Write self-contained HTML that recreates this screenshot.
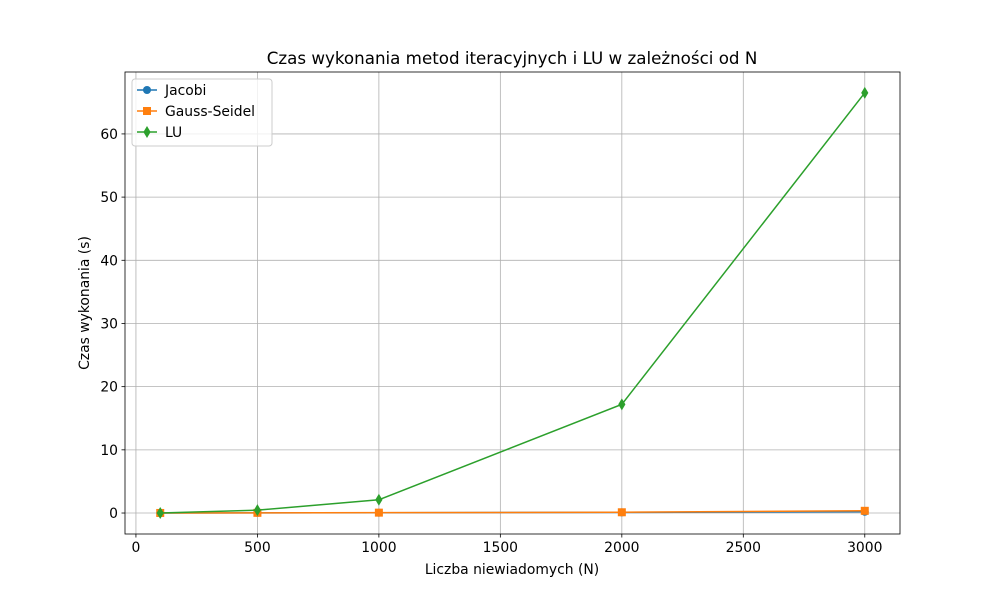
<!DOCTYPE html>
<html><head><meta charset="utf-8"><style>body{margin:0;background:#fff}svg{font-family:"DejaVu Sans","Liberation Sans",sans-serif}</style></head>
<body>
<svg id="c" width="1000" height="600" xmlns="http://www.w3.org/2000/svg"></svg>
<script>
const nValues=[100,500,1000,2000,3000];
const jacobi=[0.01,0.03,0.05,0.1,0.2];
const gaussSeidel=[0.01,0.03,0.06,0.12,0.35];
const lu=[0.01,0.45,2.1,17.2,66.5];
const xTicks=[0,500,1000,1500,2000,2500,3000];
const yTicks=[0,10,20,30,40,50,60];
const L=125,R=900,T=72,B=534,xmin=-45,xmax=3145,ymin=-3.32,ymax=69.8;
const X=v=>L+(v-xmin)/(xmax-xmin)*(R-L);
const Y=v=>B-(v-ymin)/(ymax-ymin)*(B-T);
const svg=document.getElementById('c');const NS='http://www.w3.org/2000/svg';
function mk(t,a,p){const e=document.createElementNS(NS,t);for(const k in a)e.setAttribute(k,a[k]);(p||svg).appendChild(e);return e;}
let g=mk('g',{});


xTicks.forEach(v=>{mk('line',{x1:X(v),x2:X(v),y1:T,y2:B,stroke:'#b0b0b0','stroke-width':0.8},g);
 mk('line',{x1:X(v),x2:X(v),y1:B,y2:B+3.5,stroke:'#000','stroke-width':0.8});
 const t=mk('text',{x:X(v),y:B+18,'font-size':13.9,'text-anchor':'middle'});t.textContent=v;
 
 });
yTicks.forEach(v=>{mk('line',{x1:L,x2:R,y1:Y(v),y2:Y(v),stroke:'#b0b0b0','stroke-width':0.8},g);
 mk('line',{x1:L-3.5,x2:L,y1:Y(v),y2:Y(v),stroke:'#000','stroke-width':0.8});
 const t=mk('text',{x:L-7,y:Y(v)+5,'font-size':13.9,'text-anchor':'end'});t.textContent=v;
 
 });
function marker(type,x,y,c,p){
 if(type==='o')return mk('circle',{cx:x,cy:y,r:4,fill:c},p);
 if(type==='s')return mk('rect',{x:x-4,y:y-4,width:8,height:8,fill:c},p);
 return mk('polygon',{points:`${x},${y-6} ${x+3.6},${y} ${x},${y+6} ${x-3.6},${y}`,fill:c},p);}
const series=[['jacobi',jacobi,'#1f77b4','o','Jacobi'],['gauss-seidel',gaussSeidel,'#ff7f0e','s','Gauss-Seidel'],['lu',lu,'#2ca02c','d','LU']];
series.forEach(([n,d,c,m])=>{const sg=mk('g',{});
 
 
 mk('polyline',{points:d.map((v,i)=>X(nValues[i])+','+Y(v)).join(' '),fill:'none',stroke:c,'stroke-width':1.5},sg);
 d.forEach((v,i)=>{const e=marker(m,X(nValues[i]),Y(v),c,sg);
  
  });});
mk('rect',{x:L,y:T,width:R-L,height:B-T,fill:'none',stroke:'#000','stroke-width':0.8});
const lg=mk('g',{});


mk('rect',{x:132,y:79,width:140,height:67,rx:3,fill:'#fff','fill-opacity':0.8,stroke:'#ccc'},lg);
series.forEach(([n,d,c,m,lab],i)=>{const y=90+i*21;
 mk('line',{x1:137,x2:157,y1:y,y2:y,stroke:c,'stroke-width':1.5},lg);marker(m,147,y,c,lg);
 const t=mk('text',{x:165,y:y+5,'font-size':13.9},lg);t.textContent=lab;
 
 });
let t=mk('text',{x:512,y:64,'font-size':16.7,'text-anchor':'middle'});t.textContent='Czas wykonania metod iteracyjnych i LU w zależności od N';


t=mk('text',{x:512,y:574,'font-size':13.9,'text-anchor':'middle'});t.textContent='Liczba niewiadomych (N)';


t=mk('text',{x:89,y:303,'font-size':13.9,'text-anchor':'middle',transform:'rotate(-90 89 303)'});t.textContent='Czas wykonania (s)';


</script>
</body></html>
